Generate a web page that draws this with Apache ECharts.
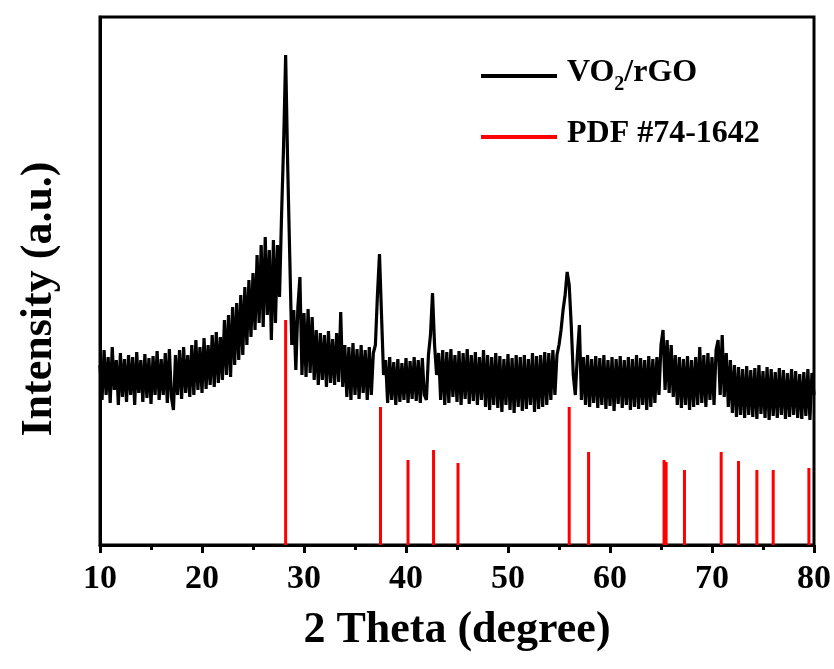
<!DOCTYPE html>
<html>
<head>
<meta charset="utf-8">
<script src="https://cdn.jsdelivr.net/npm/echarts@6/dist/echarts.min.js"></script>
<style>
html,body{margin:0;padding:0;background:#fff;}
#chart{width:834px;height:669px;}
</style>
</head>
<body>
<div id="chart"></div>
<script>
// ---- data ----
// XRD pattern sampled every 0.2 degree from 10.0 to 80.0 (intensity, a.u.)
const thetaStart = 10;
const thetaStep = 0.2;
const xrdIntensity = [
  180,145,195,150,188,   // 10
  142,198,155,185,140,   // 11
  192,148,186,143,190,   // 12
  150,188,140,193,152,   // 13
  185,143,191,147,187,   // 14
  141,189,150,194,145,   // 15
  186,150,192,142,196,   // 16
  148,135,190,150,195,   // 17
  146,198,152,190,148,   // 18
  200,150,205,155,198,   // 19
  152,207,156,200,160,   // 20
  210,158,213,162,208,   // 21
  165,225,170,230,168,   // 22
  238,180,242,185,250,   // 23
  190,258,200,265,208,   // 24
  272,215,290,222,300,   // 25
  218,308,230,295,205,   // 26
  305,222,300,248,330,   // 27
  400,490,380,290,200,   // 28
  235,175,238,268,170,   // 29
  232,168,236,172,228,   // 30
  165,215,160,212,165,   // 31
  210,158,214,162,206,   // 32
  160,212,163,233,158,   // 33
  200,148,198,145,202,   // 34
  150,196,146,200,152,   // 35
  195,145,198,150,192,   // 36
  200,250,291,230,170,   // 37
  185,142,188,145,183,   // 38
  140,186,143,182,145,   // 39
  187,142,184,146,188,   // 40
  144,185,142,187,150,   // 41
  145,190,210,252,200,   // 42
  170,192,145,195,140,   // 43
  193,142,196,148,190,   // 44
  143,194,140,192,146,   // 45
  196,141,190,144,193,   // 46
  140,188,145,195,138,   // 47
  190,135,188,140,192,   // 48
  137,189,133,186,140,   // 49
  191,135,187,132,190,   // 50
  138,188,134,190,136,   // 51
  186,140,192,133,189,   // 52
  136,190,138,193,140,   // 53
  192,145,195,150,190,   // 54
  200,215,235,250,273,   // 55
  260,220,170,150,190,   // 56
  220,145,188,140,190,   // 57
  138,186,142,189,137,   // 58
  187,140,190,136,185,   // 59
  139,188,134,186,141,   // 60
  189,137,185,140,188,   // 61
  135,186,138,190,136,   // 62
  187,140,185,135,189,   // 63
  138,186,142,188,150,   // 64
  200,215,155,205,152,   // 65
  200,148,190,140,188,   // 66
  137,186,140,189,135,   // 67
  185,138,188,140,198,   // 68
  142,190,138,192,145,   // 69
  188,140,195,205,150,   // 70
  210,148,192,138,185,   // 71
  132,180,128,178,130,   // 72
  176,127,179,130,175,   // 73
  128,177,126,180,131,   // 74
  174,127,178,125,176,   // 75
  129,173,127,177,130,   // 76
  175,126,172,128,176,   // 77
  130,174,127,171,126,   // 78
  173,129,176,125,172,   // 79
  150                    // 80
];
// Reference pattern PDF #74-1642: peak positions (2θ) and relative heights
const pdfPositions = [28.2, 37.5, 40.2, 42.7, 45.1, 56.0, 57.9, 65.3, 65.5, 67.3, 70.9, 72.6, 74.4, 76.0, 79.5];
const pdfHeights   = [225, 138, 85, 95, 82, 138, 93, 85, 83, 75, 93, 84, 75, 75, 77];
const xTicks = [10, 20, 30, 40, 50, 60, 70, 80];
const seriesNames = ['VO2/rGO', 'PDF #74-1642'];

// ---- build ----
const FONT = '"Liberation Serif","Times New Roman",serif';
const lineData = xrdIntensity.map((v, i) => [Math.round((thetaStart + i * thetaStep) * 10) / 10, v]);
const barData = pdfPositions.map((p, i) => [p, pdfHeights[i]]);

const chart = echarts.init(document.getElementById('chart'), null, {renderer: 'canvas'});
chart.setOption({
  animation: false,
  backgroundColor: '#fff',
  grid: {left: 100, right: 20, top: 17, bottom: 124, show: true, borderColor: '#000', borderWidth: 3, backgroundColor: 'transparent'},
  legend: {
    orient: 'vertical',
    left: 476, top: 52,
    itemWidth: 76, itemHeight: 4, itemGap: 23,
    icon: 'rect',
    data: seriesNames,
    formatter: function (name) {
      if (name === 'VO2/rGO') return '{n|VO}{s|2}{n|/rGO}';
      return '{n|' + name + '}';
    },
    textStyle: {
      color: '#000', fontFamily: FONT, fontWeight: 'bold', fontSize: 32,
      padding: [0, 0, 0, 5],
      rich: {
        n: {fontFamily: FONT, fontWeight: 'bold', fontSize: 32, lineHeight: 38, verticalAlign: 'top', color: '#000'},
        s: {fontFamily: FONT, fontWeight: 'bold', fontSize: 20, lineHeight: 16, verticalAlign: 'bottom', color: '#000'}
      }
    }
  },
  xAxis: {
    type: 'value', min: 10, max: 80, interval: 10,
    name: '2 Theta (degree)', nameLocation: 'middle', nameGap: 64,
    nameTextStyle: {fontFamily: FONT, fontWeight: 'bold', fontSize: 44, color: '#000'},
    axisLine: {show: true, lineStyle: {color: '#000', width: 3}},
    axisTick: {show: true, inside: false, length: 8, lineStyle: {color: '#000', width: 3}},
    minorTick: {show: true, splitNumber: 2, length: 5, lineStyle: {color: '#000', width: 3}},
    axisLabel: {
      margin: 17, fontFamily: FONT, fontWeight: 'bold', fontSize: 34, color: '#000',
      formatter: v => (xTicks.indexOf(v) >= 0 ? String(v) : '')
    },
    splitLine: {show: false}, minorSplitLine: {show: false}
  },
  yAxis: {
    type: 'value', min: 0, max: 528,
    name: 'Intensity (a.u.)', nameLocation: 'middle', nameGap: 38, nameRotate: 90,
    nameTextStyle: {fontFamily: FONT, fontWeight: 'bold', fontSize: 44, color: '#000', padding: [0, 36, 0, 0]},
    axisLine: {show: true, lineStyle: {color: '#000', width: 3}},
    axisTick: {show: false}, axisLabel: {show: false},
    splitLine: {show: false}
  },
  series: [
    {
      name: seriesNames[0], type: 'line', data: lineData,
      showSymbol: false, symbol: 'none',
      lineStyle: {color: '#000', width: 3.2}, itemStyle: {color: '#000'},
      z: 2
    },
    {
      name: seriesNames[1], type: 'bar', data: barData,
      barWidth: 3, itemStyle: {color: '#ff0000'},
      z: 3
    }
  ]
});
</script>
</body>
</html>
